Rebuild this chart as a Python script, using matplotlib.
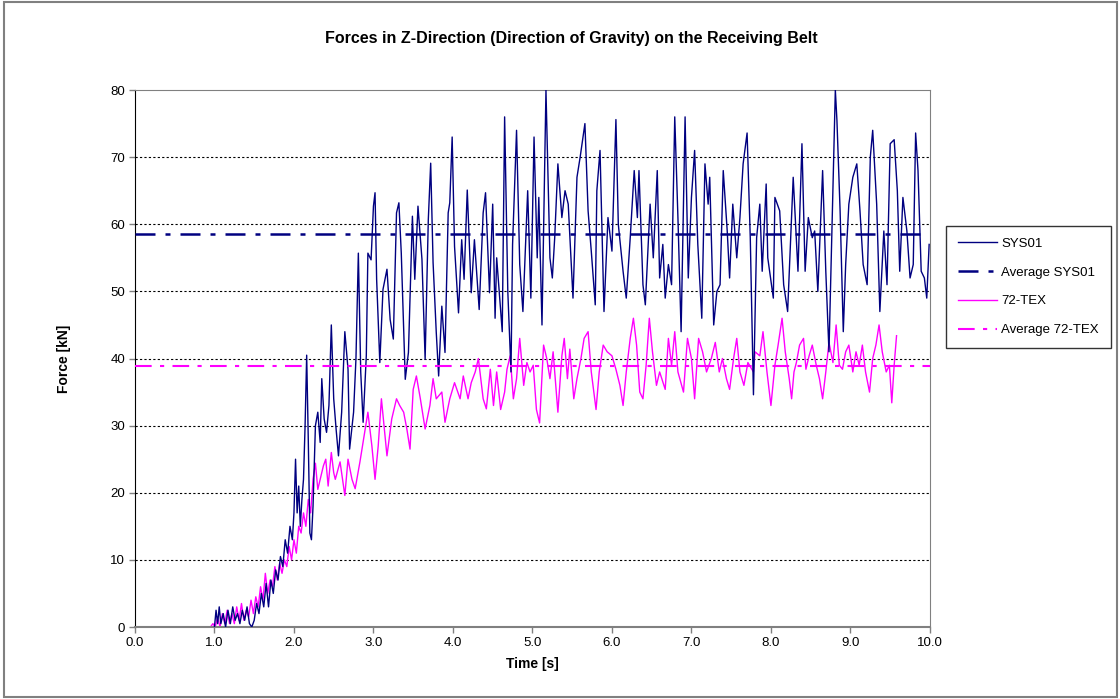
import matplotlib
matplotlib.use('Agg')
import matplotlib.pyplot as plt
from matplotlib.patches import Rectangle

plt.rcParams['font.family'] = ['Liberation Sans', 'DejaVu Sans']

# SYS01 force signal (time [s], force [kN])
sys01_t = [1.00, 1.02, 1.04, 1.06, 1.08, 1.11, 1.14, 1.17, 1.20, 1.23, 1.26, 1.29, 1.32, 1.35, 1.38,
           1.41, 1.44, 1.47, 1.50, 1.53, 1.56, 1.59, 1.62, 1.65, 1.68, 1.71, 1.74, 1.77, 1.80, 1.83,
           1.86, 1.89, 1.92, 1.95, 1.98, 2.00, 2.02, 2.04, 2.06, 2.08, 2.10, 2.12, 2.14, 2.16, 2.18,
           2.20, 2.22, 2.24, 2.27, 2.30, 2.33, 2.35, 2.38, 2.41, 2.44, 2.47, 2.50, 2.53, 2.56, 2.60,
           2.64, 2.68, 2.70, 2.75, 2.78, 2.81, 2.84, 2.87, 2.91, 2.93, 2.97, 3.00, 3.02, 3.04, 3.08,
           3.12, 3.17, 3.21, 3.25, 3.29, 3.32, 3.35, 3.40, 3.44, 3.49, 3.52, 3.56, 3.61, 3.65, 3.69,
           3.72, 3.75, 3.79, 3.82, 3.86, 3.90, 3.94, 3.96, 3.99, 4.02, 4.07, 4.11, 4.14, 4.18, 4.23,
           4.27, 4.33, 4.38, 4.41, 4.46, 4.50, 4.53, 4.55, 4.62, 4.65, 4.69, 4.73, 4.75, 4.80, 4.84,
           4.88, 4.94, 4.98, 5.02, 5.06, 5.08, 5.12, 5.17, 5.22, 5.25, 5.28, 5.32, 5.37, 5.41, 5.45,
           5.51, 5.56, 5.60, 5.66, 5.70, 5.74, 5.79, 5.81, 5.85, 5.90, 5.95, 6.00, 6.05, 6.08, 6.14,
           6.18, 6.23, 6.28, 6.32, 6.34, 6.39, 6.42, 6.48, 6.52, 6.57, 6.60, 6.64, 6.67, 6.71, 6.75,
           6.79, 6.83, 6.87, 6.92, 6.96, 7.00, 7.04, 7.08, 7.13, 7.17, 7.21, 7.23, 7.28, 7.32, 7.36,
           7.40, 7.45, 7.48, 7.52, 7.57, 7.61, 7.65, 7.70, 7.74, 7.78, 7.82, 7.86, 7.89, 7.94, 7.96,
           8.03, 8.05, 8.11, 8.16, 8.21, 8.28, 8.34, 8.39, 8.43, 8.47, 8.52, 8.55, 8.59, 8.65, 8.69,
           8.73, 8.78, 8.81, 8.83, 8.87, 8.91, 8.94, 8.98, 9.03, 9.08, 9.12, 9.16, 9.21, 9.25, 9.28,
           9.33, 9.37, 9.42, 9.46, 9.50, 9.55, 9.59, 9.62, 9.66, 9.71, 9.75, 9.79, 9.82, 9.85, 9.89,
           9.93, 9.96, 9.99]
sys01_f = [0, 2.5, 0.5, 3, 0.5, 2, 0, 2.5, 0.5, 3, 1, 2, 0.5, 2.5, 1,
           3, 0.5, 0, 1, 3.5, 2, 5, 3, 6.5, 3, 7, 5, 8.5, 7, 10.5,
           9, 13, 11, 15, 13, 17, 25, 17, 21, 15, 19, 22, 30, 40.5, 28,
           14, 13, 18, 30, 32, 27.5, 37, 31, 29, 33, 45, 34, 29.5, 25.5, 32,
           44, 38.4, 26.5, 32, 40, 55.7, 38, 30.5, 40.4, 55.7, 54.7, 62.7, 64.7, 51.8, 39.4,
           50.3, 53.3, 45.8, 42.9, 61.7, 63.2, 55.7, 36.9, 40.9, 61.2, 51.8, 62.7, 54.8, 39.9, 60.7,
           69.1, 54.3, 43.9, 37.4, 47.8, 40.9, 61.7, 63.2, 73, 56.7, 46.8, 57.7, 51.8, 65.1, 49.8,
           57.7, 47.3, 61.7, 64.7, 49.8, 63, 46, 55, 44, 76, 50, 38, 57, 74, 54,
           47, 65, 49, 73, 55, 64, 45, 80, 55, 52, 58, 69, 61, 65, 63,
           49, 67, 70, 75, 62, 56, 48, 65, 71, 47, 61, 56, 75.6, 60, 53,
           49, 58, 68, 61, 68, 51, 48, 63, 55, 68, 52, 57, 49, 54, 51,
           76, 61, 44, 76, 52, 64, 71, 57, 46, 69, 63, 67, 45, 50, 51,
           68, 59, 52, 63, 55, 61, 69, 73.6, 58, 34.6, 58, 63, 53, 66, 55,
           49, 64, 62, 51, 47, 67, 53, 72, 53, 61, 58, 59, 50, 68, 53,
           41, 65, 80, 75.5, 62, 44, 54, 63, 67, 69, 62, 54, 51, 70, 74,
           63, 47, 59, 51, 72, 72.6, 65, 53, 64, 59, 52, 54, 73.6, 68, 53,
           52, 49, 57]

# 72-TEX force signal
tex_t = [0.95, 0.98, 1.01, 1.04, 1.07, 1.10, 1.13, 1.16, 1.19, 1.22, 1.25, 1.28, 1.31, 1.34, 1.37,
         1.40, 1.43, 1.46, 1.49, 1.52, 1.55, 1.58, 1.61, 1.64, 1.67, 1.70, 1.73, 1.76, 1.79, 1.82,
         1.85, 1.88, 1.91, 1.94, 1.97, 2.00, 2.03, 2.06, 2.09, 2.12, 2.15, 2.18, 2.21, 2.24, 2.27,
         2.30, 2.33, 2.37, 2.40, 2.43, 2.47, 2.50, 2.52, 2.58, 2.64, 2.68, 2.73, 2.77, 2.83, 2.89,
         2.93, 2.98, 3.02, 3.06, 3.10, 3.17, 3.23, 3.29, 3.33, 3.38, 3.42, 3.46, 3.50, 3.54, 3.59,
         3.65, 3.71, 3.75, 3.79, 3.86, 3.90, 3.96, 4.02, 4.09, 4.13, 4.19, 4.23, 4.28, 4.32, 4.38,
         4.42, 4.47, 4.51, 4.55, 4.60, 4.65, 4.68, 4.72, 4.76, 4.80, 4.84, 4.89, 4.93, 4.97, 5.01,
         5.05, 5.09, 5.14, 5.18, 5.22, 5.26, 5.32, 5.37, 5.40, 5.44, 5.47, 5.52, 5.56, 5.61, 5.65,
         5.70, 5.74, 5.80, 5.84, 5.89, 5.94, 6.00, 6.05, 6.10, 6.14, 6.18, 6.23, 6.27, 6.31, 6.35,
         6.39, 6.43, 6.47, 6.51, 6.56, 6.60, 6.67, 6.71, 6.75, 6.79, 6.83, 6.90, 6.95, 7.00, 7.04,
         7.09, 7.14, 7.19, 7.25, 7.30, 7.35, 7.39, 7.44, 7.48, 7.53, 7.57, 7.61, 7.66, 7.71, 7.78,
         7.80, 7.86, 7.90, 7.95, 8.00, 8.05, 8.09, 8.14, 8.18, 8.23, 8.26, 8.29, 8.32, 8.36, 8.41,
         8.44, 8.48, 8.52, 8.57, 8.61, 8.65, 8.69, 8.73, 8.78, 8.82, 8.86, 8.90, 8.94, 8.98, 9.03,
         9.07, 9.11, 9.15, 9.19, 9.24, 9.28, 9.32, 9.36, 9.40, 9.45, 9.49, 9.52, 9.55, 9.58]
tex_f = [0, 0.5, 0, 1.5, 0, 2, 0.5, 2.5, 0.5, 2, 0.5, 3, 1, 3.5, 1,
         2.5, 1.5, 4, 2, 4.5, 3, 6, 4, 8, 5, 7, 6, 9, 7, 9.5,
         8, 10, 9, 12, 10, 13, 11, 15, 14, 17, 15, 19, 17, 22, 24.4,
         20.5, 22, 24, 25, 21, 26, 23, 22, 24.6, 19.6, 25, 22, 20.6, 24.6, 29,
         32, 27, 22, 27, 34, 25.5, 31, 34, 33, 32, 29.5, 26.5, 35.4, 37.4, 34,
         29.5, 33, 37, 34, 35, 30.5, 34, 36.4, 34, 37.4, 34, 36.4, 38, 40, 34,
         32.5, 38.4, 33, 38, 32.4, 35, 38.4, 40.4, 34, 37, 43, 36, 39.4, 38, 39,
         32.4, 30.4, 42, 40, 37, 41, 32, 40.4, 43, 37, 41.4, 34, 37, 40, 43,
         44, 38, 32.4, 38, 42, 41, 40.4, 38.4, 36, 33, 38, 43, 46, 42, 35,
         34, 39, 46, 41, 36, 38, 35.4, 43, 39, 44, 38, 35, 43, 40, 34,
         43, 41, 38, 40, 42.4, 38, 40, 37, 35.4, 40, 43, 38, 36, 39.4, 38,
         41, 40.4, 44, 38, 33, 39, 42, 46, 41, 37, 34, 38, 39.4, 42, 43,
         38.4, 40.4, 42, 39, 37, 34, 38, 42.4, 39.4, 45, 39, 38.4, 41, 42, 38,
         41, 39, 42, 38, 35, 40, 42, 45, 41, 38, 39, 33.4, 39, 43.4]

avg_sys01 = 58.6
avg_tex = 38.9

x_ticks = [0, 1, 2, 3, 4, 5, 6, 7, 8, 9, 10]
y_ticks = [0, 10, 20, 30, 40, 50, 60, 70, 80]

fig = plt.figure(figsize=(11.2, 6.99), dpi=100)
ax = fig.add_axes([0.1205, 0.1030, 0.7098, 0.7682])

for y in y_ticks[1:-1]:
    ax.axhline(y, color='black', linestyle=(0, (2, 2)), linewidth=0.8, zorder=1)

ax.plot(sys01_t, sys01_f, color='#000080', linewidth=1.0, label='SYS01', zorder=3)
ax.plot([0, 10], [avg_sys01, avg_sys01], color='#000080', linestyle=(0, (8, 4, 2, 4)),
        linewidth=1.8, label='Average SYS01', zorder=4)
ax.plot(tex_t, tex_f, color='#FF00FF', linewidth=1.0, label='72-TEX', zorder=2)
ax.plot([0, 10], [avg_tex, avg_tex], color='#FF00FF', linestyle=(0, (8, 4, 2, 4)),
        linewidth=1.5, label='Average 72-TEX', zorder=4)

ax.set_xlim(0, 10)
ax.set_ylim(0, 80)
ax.set_xticks(x_ticks)
ax.set_xticklabels(['%.1f' % v for v in x_ticks], fontsize=9.5)
ax.set_yticks(y_ticks)
ax.set_yticklabels([str(v) for v in y_ticks], fontsize=9.5)
ax.tick_params(direction='out', length=4, width=1, colors='#808080', labelcolor='black', pad=3)

for side in ['top', 'right', 'bottom']:
    ax.spines[side].set_color('#808080')
ax.spines['left'].set_color('black')
ax.spines['bottom'].set_linewidth(1.5)

ax.set_xlabel('Time [s]', fontsize=10, fontweight='bold', labelpad=6)
ax.set_ylabel('Force [kN]', fontsize=10, fontweight='bold', labelpad=28)

fig.text(0.51, 0.945, 'Forces in Z-Direction (Direction of Gravity) on the Receiving Belt',
         ha='center', va='center', fontsize=11.5, fontweight='bold')

leg = ax.legend(loc='center left', bbox_to_anchor=(0.8446, 0.5894), bbox_transform=fig.transFigure,
                fontsize=9.5, frameon=True, fancybox=False, edgecolor='black', borderpad=0.9,
                labelspacing=1.25, handlelength=3.0, handletextpad=0.3, borderaxespad=0)
leg.get_frame().set_linewidth(1.0)

fig.patches.append(Rectangle((0.004, 0.003), 0.993, 0.994, transform=fig.transFigure,
                             fill=False, edgecolor='#808080', linewidth=1.5))

fig.savefig('out.png', dpi=100)
